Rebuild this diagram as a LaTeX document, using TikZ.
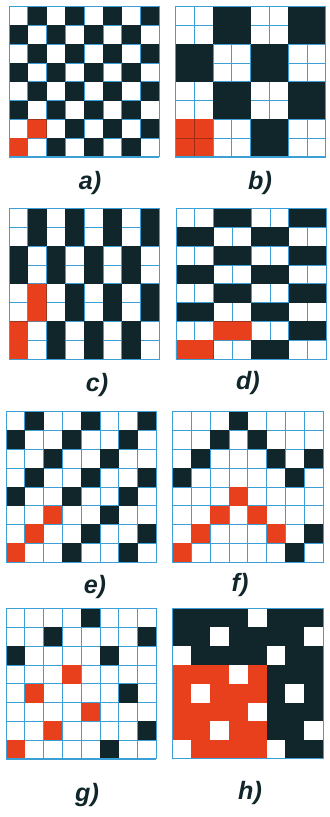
\documentclass[tikz,border=0pt]{standalone}
\usepackage{fontspec}
\setsansfont{Liberation Sans}

\begin{document}
\begin{tikzpicture}[
  x=5mm, y=5mm,
  gridline/.style={draw=WBlue, line width=0.55pt, step=1},
  frame/.style={draw=WBlue, line width=0.7pt},
  warp/.style={fill=WDark},
  repeat/.style={fill=WRed},
  blank/.style={fill=white},
  caption/.style={font=\sffamily\bfseries\itshape\fontsize{19}{19}\selectfont, text=WDark, inner sep=0pt}
]
\definecolor{WDark}{HTML}{10262A}
\definecolor{WRed}{HTML}{E8401C}
\definecolor{WBlue}{HTML}{3CA0D7}

\useasboundingbox (0,0) rectangle (17.553,43.457);

% a) plain weave
\begin{scope}[shift={(0.48,35.11)}]
  \draw[gridline] (0,0) grid (8,8);
  \foreach \r in {0,...,7} \foreach \c in {0,...,7} {
    \pgfmathtruncatemacro{\k}{mod(\r+\c,2)}
    \ifnum\k=0 \fill[warp] (\c,\r) rectangle ++(1,1); \fi}
  \fill[repeat] (0,0) rectangle (1,1) (1,1) rectangle (2,2);
  \draw[frame] (0,0) rectangle (8,8);
\end{scope}

% b) basket weave
\begin{scope}[shift={(9.33,35.11)}]
  \draw[gridline] (0,0) grid (8,8);
  \foreach \r in {0,...,7} \foreach \c in {0,...,7} {
    \pgfmathtruncatemacro{\k}{mod(int(\r/2)+int(\c/2),2)}
    \ifnum\k=0 \fill[warp] (\c,\r) rectangle ++(1,1); \fi}
  \fill[repeat] (0,0) rectangle (2,2);
  \draw[draw=WRed!70!black, line width=0.3pt] (1,0) -- (1,2) (0,1) -- (2,1);
  \draw[frame] (0,0) rectangle (8,8);
\end{scope}

% c) warp rib
\begin{scope}[shift={(0.48,24.36)}]
  \draw[gridline] (0,0) grid (8,8);
  \foreach \r in {0,...,7} \foreach \c in {0,...,7} {
    \pgfmathtruncatemacro{\k}{mod(int(\r/2)+\c,2)}
    \ifnum\k=0 \fill[warp] (\c,\r) rectangle ++(1,1); \fi}
  \fill[repeat] (0,0) rectangle (1,2) (1,2) rectangle (2,4);
  \draw[frame] (0,0) rectangle (8,8);
\end{scope}

% d) weft rib
\begin{scope}[shift={(9.36,24.36)}]
  \draw[gridline] (0,0) grid (8,8);
  \foreach \r in {0,...,7} \foreach \c in {0,...,7} {
    \pgfmathtruncatemacro{\k}{mod(\r+int(\c/2),2)}
    \ifnum\k=0 \fill[warp] (\c,\r) rectangle ++(1,1); \fi}
  \fill[repeat] (0,0) rectangle (2,1) (2,1) rectangle (4,2);
  \draw[frame] (0,0) rectangle (8,8);
\end{scope}

% e) twill
\begin{scope}[shift={(0.32,13.56)}]
  \draw[gridline] (0,0) grid (8,8);
  \foreach \r in {0,...,7} \foreach \c in {0,...,7} {
    \pgfmathtruncatemacro{\k}{mod(\c-\r+9,3)}
    \ifnum\k=0 \fill[warp] (\c,\r) rectangle ++(1,1); \fi}
  \foreach \c/\r in {0/0,1/1,2/2}
    \fill[repeat] (\c,\r) rectangle ++(1,1);
  \draw[frame] (0,0) rectangle (8,8);
\end{scope}

% f) pointed twill
\begin{scope}[shift={(9.18,13.56)}]
  \draw[gridline] (0,0) grid (8,8);
  \foreach \r in {0,...,7} \foreach \c in {0,...,7} {
    \pgfmathtruncatemacro{\k}{mod(\r,4)-(3-abs(3-mod(\c,6)))}
    \ifnum\k=0 \fill[warp] (\c,\r) rectangle ++(1,1); \fi}
  \foreach \c/\r in {0/0,1/1,2/2,3/3,4/2,5/1}
    \fill[repeat] (\c,\r) rectangle ++(1,1);
  \draw[frame] (0,0) rectangle (8,8);
\end{scope}

% g) satin
\begin{scope}[shift={(0.32,3.09)}]
  \draw[gridline] (0,0) grid (8,8);
  \foreach \r in {0,...,7} \foreach \c in {0,...,7} {
    \pgfmathtruncatemacro{\k}{mod(\c-2*\r+20,5)}
    \ifnum\k=0 \fill[warp] (\c,\r) rectangle ++(1,1); \fi}
  \foreach \c/\r in {0/0,2/1,4/2,1/3,3/4}
    \fill[repeat] (\c,\r) rectangle ++(1,1);
  \draw[frame] (0,0) rectangle (8,8);
\end{scope}

% h) sateen
\begin{scope}[shift={(9.18,3.09)}]
  \fill[warp] (0,0) rectangle (8,8);
  \fill[repeat] (0,0) rectangle (5,5);
  \foreach \r in {0,...,7} \foreach \c in {0,...,7} {
    \pgfmathtruncatemacro{\k}{mod(\c-2*\r+20,5)}
    \ifnum\k=0 \fill[blank] (\c,\r) rectangle ++(1,1); \fi}
  \draw[frame] (0,0) rectangle (8,8);
\end{scope}

\node[caption] (capa) at (4.79,33.72) {a)};
\node[caption] (capb) at (13.83,33.72) {b)};
\node[caption] (capc) at (5.16,22.98) {c)};
\node[caption] (capd) at (13.19,23.09) {d)};
\node[caption] (cape) at (5.05,12.23) {e)};
\node[caption] (capf) at (12.77,12.34) {f)};
\node[caption] (capg) at (4.63,1.17) {g)};
\node[caption] (caph) at (13.30,1.28) {h)};
\end{tikzpicture}
\end{document}
